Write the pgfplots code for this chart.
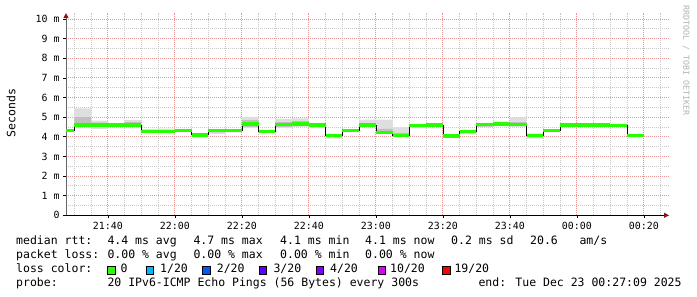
\documentclass[border=0pt]{standalone}
\usepackage{pgfplots}
\pgfplotsset{compat=1.18}
\usepackage{pgfplotstable}
\usepgfplotslibrary{fillbetween}
\usetikzlibrary{arrows.meta}
\usepackage{fontspec}
\setmainfont{DejaVu Sans}
\setmonofont{DejaVu Sans Mono}
\newfontfamily\rrd{DejaVu Sans Mono}
\newcommand\lgf{\rrd\fontsize{11.5bp}{13bp}\selectfont}
\newcommand\tkf{\rrd\fontsize{9.9bp}{11bp}\selectfont}

\definecolor{loss0}{RGB}{38,255,0}
\definecolor{loss1}{RGB}{0,184,255}
\definecolor{loss2}{RGB}{0,89,255}
\definecolor{loss3}{RGB}{94,0,255}
\definecolor{loss4}{RGB}{126,0,255}
\definecolor{loss10}{RGB}{221,0,255}
\definecolor{loss19}{RGB}{255,0,0}
\definecolor{mgrid}{RGB}{232,150,150}
\definecolor{mingrid}{RGB}{200,200,200}
\definecolor{arrowred}{RGB}{140,20,20}
\definecolor{smokelight}{RGB}{222,222,222}
\definecolor{smokemid}{RGB}{192,192,192}

\pgfplotstableread{
x med lo hi mlo mhi
27.5 4.31 4.25 4.38 4.27 4.35
30 4.60 4.48 5.45 4.52 5.00
35 4.60 4.40 4.82 4.50 4.72
40 4.60 4.55 4.68 4.57 4.65
45 4.60 4.48 4.86 4.52 4.75
50 4.26 4.20 4.40 4.22 4.33
55 4.26 4.20 4.42 4.22 4.33
60 4.33 4.28 4.40 4.30 4.37
65 4.10 3.97 4.20 4.03 4.15
70 4.31 4.15 4.35 4.22 4.33
75 4.31 4.22 4.35 4.26 4.33
80 4.65 4.44 5.02 4.50 4.85
85 4.28 4.22 4.35 4.24 4.32
90 4.62 4.45 4.91 4.50 4.75
95 4.65 4.50 4.94 4.55 4.80
100 4.60 4.45 4.65 4.50 4.63
105 4.06 3.90 4.15 3.97 4.10
110 4.31 4.25 4.38 4.27 4.35
115 4.60 4.52 4.87 4.55 4.70
120 4.22 4.15 4.87 4.20 4.40
125 4.07 4.00 4.48 4.03 4.20
130 4.58 4.45 4.65 4.50 4.62
135 4.60 4.55 4.65 4.57 4.63
140 4.03 3.95 4.10 3.98 4.07
145 4.28 4.15 4.35 4.20 4.32
150 4.62 4.48 4.68 4.52 4.65
155 4.65 4.55 4.77 4.58 4.70
160 4.62 4.50 4.99 4.55 4.75
165 4.07 3.90 4.17 3.97 4.12
170 4.31 4.25 4.38 4.27 4.35
175 4.60 4.52 4.65 4.55 4.63
180 4.60 4.55 4.65 4.57 4.63
185 4.60 4.55 4.65 4.57 4.63
190 4.57 4.50 4.65 4.53 4.62
195 4.06 3.97 4.15 4.00 4.12
200 4.06 3.97 4.15 4.00 4.12
}\smokedata

\begin{document}
\begin{tikzpicture}
\path (0,0) rectangle (697bp,297bp);
\begin{axis}[
  at={(66bp,81.7bp)}, anchor=south west,
  scale only axis, width=603bp, height=202.2bp,
  xmin=27.5, xmax=207.5, ymin=0, ymax=10.3,
  axis x line*=bottom, axis y line*=left,
  x axis line style={black, line width=1bp, -{Triangle[length=5bp,width=5bp,color=arrowred,fill=arrowred]}},
  y axis line style={black!60, line width=1bp, -{Triangle[length=5bp,width=5bp,color=arrowred,fill=arrowred]}},
  xtick={40,60,...,200},
  xticklabels={21:40,22:00,22:20,22:40,23:00,23:20,23:40,00:00,00:20},
  minor xtick={30,35,45,50,55,65,70,75,85,90,95,105,110,115,125,130,135,145,150,155,165,170,175,185,190,195,205},
  ytick={0,1,...,10},
  yticklabels={0,1 m,2 m,3 m,4 m,5 m,6 m,7 m,8 m,9 m,10 m},
  minor ytick={0.5,1.5,...,9.5},
  grid=both,
  major grid style={mgrid, dash pattern=on 1bp off 1bp, line width=0.8bp},
  minor grid style={mingrid, dash pattern=on 1bp off 1bp, line width=0.8bp},
  tick align=outside,
  major tick length=3bp, minor tick length=0bp,
  tick style={black, line width=0.6bp},
  ticklabel style={font=\tkf},
  /pgf/number format/assume math mode=true,
  clip=false,
]
\addplot[const plot mark left, draw=none, no markers, name path=lo] table[x=x,y=lo]{\smokedata};
\addplot[const plot mark left, draw=none, no markers, name path=hi] table[x=x,y=hi]{\smokedata};
\addplot[fill=smokelight, draw=none] fill between[of=hi and lo];
\addplot[const plot mark left, draw=none, no markers, name path=mlo] table[x=x,y=mlo]{\smokedata};
\addplot[const plot mark left, draw=none, no markers, name path=mhi] table[x=x,y=mhi]{\smokedata};
\addplot[fill=smokemid, draw=none] fill between[of=mhi and mlo];
\addplot[const plot mark left, black, line width=0.7bp, no markers] table[x=x,y=med]{\smokedata};
\addplot[jump mark left, loss0, line width=3.5bp, no markers] table[x=x,y=med]{\smokedata};
\end{axis}
% axis title and credits
\node[rotate=90, font=\lgf, inner sep=0] at (11bp,184bp) {Seconds};
\node[rotate=-90, anchor=west, text=black!30, font=\rrd\fontsize{8.3bp}{9bp}\selectfont, inner sep=0] at (686bp,292bp) {RRDTOOL / TOBI OETIKER};
% legend lines
\begin{scope}[every node/.style={anchor=base west, inner sep=0, font=\lgf}]
\node at (16bp,52.7bp) {median rtt:};
\node at (107.3bp,52.7bp) {4.4 ms avg};
\node at (193.3bp,52.7bp) {4.7 ms max};
\node at (280bp,52.7bp) {4.1 ms min};
\node at (365bp,52.7bp) {4.1 ms now};
\node at (451bp,52.7bp) {0.2 ms sd};
\node at (530bp,52.7bp) {20.6};
\node at (579.3bp,52.7bp) {am/s};
\node at (16bp,38.7bp) {packet loss:};
\node at (107.3bp,38.7bp) {0.00 \% avg};
\node at (193.3bp,38.7bp) {0.00 \% max};
\node at (280bp,38.7bp) {0.00 \% min};
\node at (365bp,38.7bp) {0.00 \% now};
\node at (16bp,24.3bp) {loss color:};
\node at (120.5bp,24.3bp) {0};
\node at (160bp,24.3bp) {1/20};
\node at (216.7bp,24.3bp) {2/20};
\node at (273.3bp,24.3bp) {3/20};
\node at (330bp,24.3bp) {4/20};
\node at (390bp,24.3bp) {10/20};
\node at (454.3bp,24.3bp) {19/20};
\node at (16bp,10.3bp) {probe:};
\node at (107.3bp,10.3bp) {20 IPv6-ICMP Echo Pings (56 Bytes) every 300s};
\node at (478.3bp,10.3bp) {end: Tue Dec 23 00:27:09 2025};
\end{scope}
\begin{scope}[line width=0.6bp]
\draw[fill=loss0] (107.7bp,23bp) rectangle ++(7.3bp,7.3bp);
\draw[fill=loss1] (146bp,23bp) rectangle ++(7.3bp,7.3bp);
\draw[fill=loss2] (202.7bp,23bp) rectangle ++(7.3bp,7.3bp);
\draw[fill=loss3] (259.3bp,23bp) rectangle ++(7.3bp,7.3bp);
\draw[fill=loss4] (316bp,23bp) rectangle ++(7.3bp,7.3bp);
\draw[fill=loss10] (378.3bp,23bp) rectangle ++(7.3bp,7.3bp);
\draw[fill=loss19] (442.7bp,23bp) rectangle ++(7.3bp,7.3bp);
\end{scope}
\end{tikzpicture}
\end{document}
